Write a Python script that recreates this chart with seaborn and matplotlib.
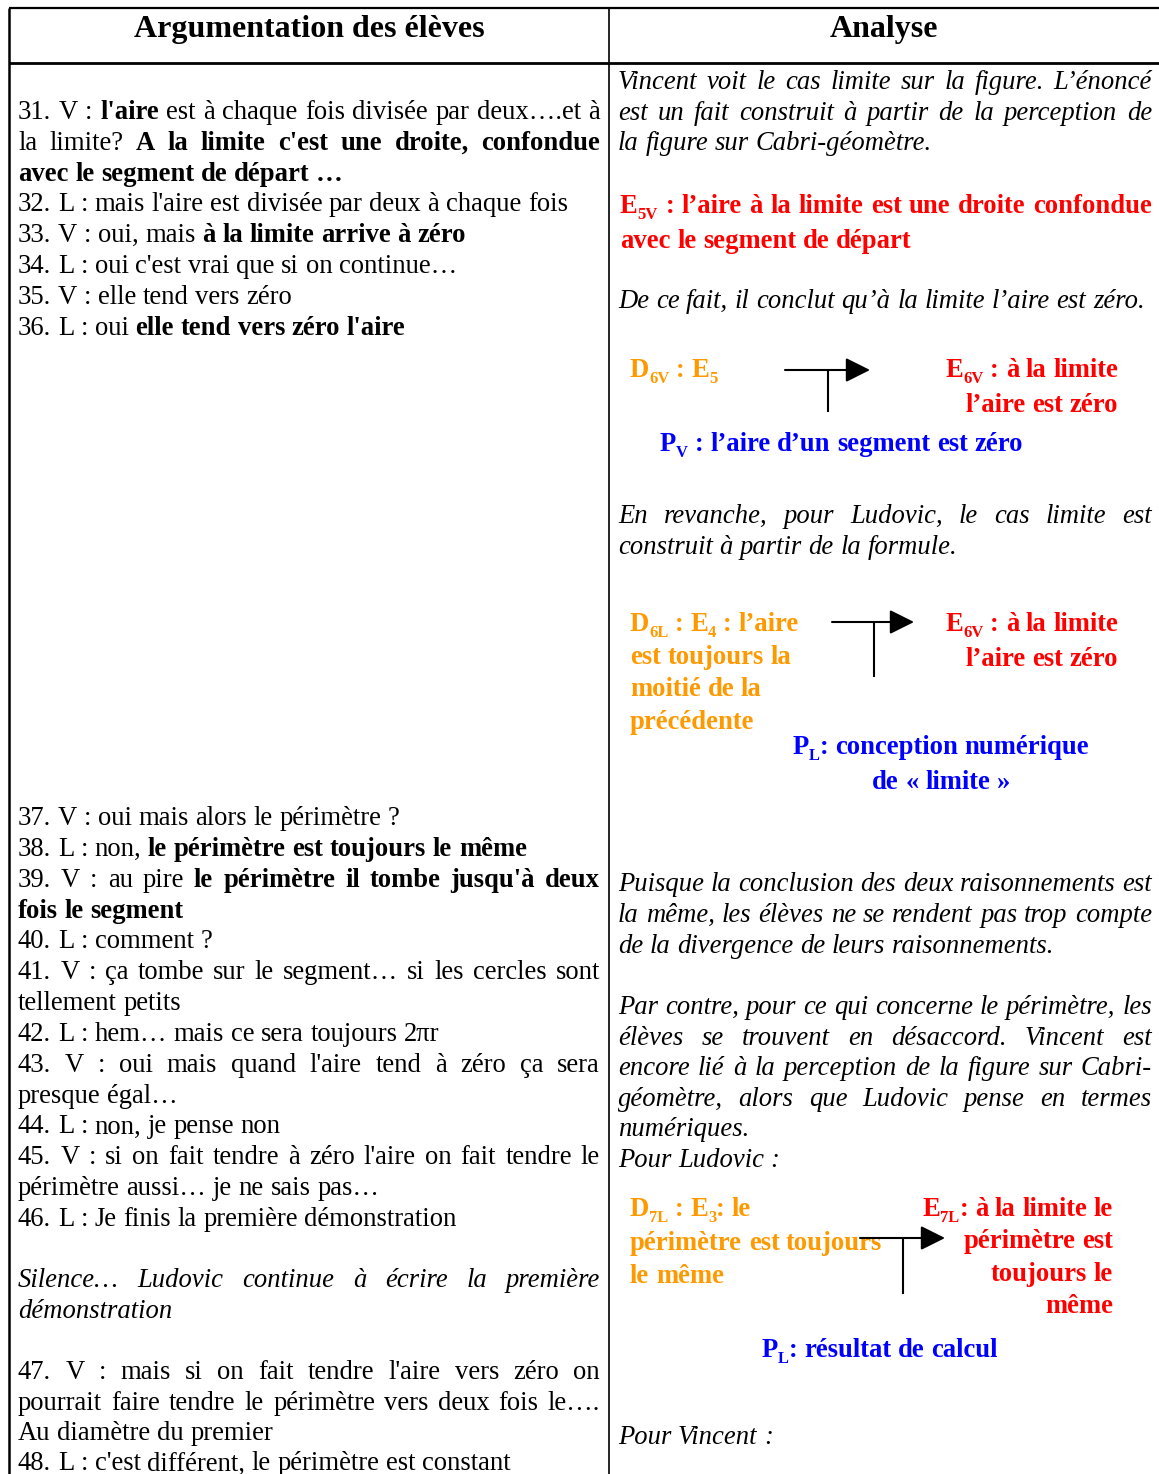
import re
import matplotlib
matplotlib.use("Agg")
import matplotlib.pyplot as plt
import seaborn as sns

sns.set_theme(style="white")
plt.rcParams["font.family"] = ["Liberation Serif", "DejaVu Serif"]

# ---------------- content ----------------
header_left = "Argumentation des élèves"
header_right = "Analyse"

# left column paragraphs (** toggles bold)
left_block1 = [
    ["31. V : **l'aire** est à chaque fois divisée par deux….et à",
     "la limite? **A la limite c'est une droite, confondue**",
     "**avec le segment de départ …**"],
    ["32. L : mais l'aire est divisée par deux à chaque fois"],
    ["33. V : oui, mais **à la limite arrive à zéro**"],
    ["34. L : oui c'est vrai que si on continue…"],
    ["35. V : elle tend vers zéro"],
    ["36. L : oui **elle tend vers zéro l'aire**"],
]
left_block2 = [
    ["37. V : oui mais alors le périmètre ?"],
    ["38. L : non, **le périmètre est toujours le même**"],
    ["39. V : au pire **le périmètre il tombe jusqu'à deux**",
     "**fois le segment**"],
    ["40. L : comment ?"],
    ["41. V : ça tombe sur le segment… si les cercles sont",
     "tellement petits"],
    ["42. L : hem… mais ce sera toujours 2πr"],
    ["43. V : oui mais quand l'aire tend à zéro ça sera",
     "presque égal…"],
    ["44. L : non, je pense non"],
    ["45. V : si on fait tendre à zéro l'aire on fait tendre le",
     "périmètre aussi… je ne sais pas…"],
    ["46. L : Je finis la première démonstration"],
]
left_silence = [["Silence… Ludovic continue à écrire la première",
                 "démonstration"]]
left_block3 = [
    ["47. V : mais si on fait tendre l'aire vers zéro on",
     "pourrait faire tendre le périmètre vers deux fois le….",
     "Au diamètre du premier"],
    ["48. L : c'est différent, le périmètre est constant"],
]

right_p1 = [["Vincent voit le cas limite sur la figure. L’énoncé",
             "est un fait construit à partir de la perception de",
             "la figure sur Cabri-géomètre."]]
right_e5 = [["E_{5V} : l’aire à la limite est une droite confondue",
             "avec le segment de départ"]]
right_p2 = [["De ce fait, il conclut qu’à la limite l’aire est zéro."]]
right_p3 = [["En revanche, pour Ludovic, le cas limite est",
             "construit à partir de la formule."]]
right_p4 = [["Puisque la conclusion des deux raisonnements est",
             "la même, les élèves ne se rendent pas trop compte",
             "de la divergence de leurs raisonnements."]]
right_p5 = [["Par contre, pour ce qui concerne le périmètre, les",
             "élèves se trouvent en désaccord. Vincent est",
             "encore lié à la perception de la figure sur Cabri-",
             "géomètre, alors que Ludovic pense en termes",
             "numériques."],
            ["Pour Ludovic :"]]
right_p6 = [["Pour Vincent :"]]

diag1_data = ["D_{6V} : E_{5}"]
diag1_concl = ["E_{6V} : à la limite", "l’aire est zéro"]
diag1_warrant = ["P_{V} : l’aire d’un segment est zéro"]

diag2_data = ["D_{6L} : E_{4} : l’aire", "est toujours la", "moitié de la", "précédente"]
diag2_concl = ["E_{6V} : à la limite", "l’aire est zéro"]
diag2_warrant = ["P_{L}: conception numérique", "de « limite »"]

diag3_data = ["D_{7L} : E_{3}: le", "périmètre est toujours", "le même"]
diag3_concl = ["E_{7L}: à la limite le", "périmètre est", "toujours le", "même"]
diag3_warrant = ["P_{L}: résultat de calcul"]

# ---------------- styles ----------------
ORANGE = "#FF9900"
RED = "#FF0000"
BLUE = "#0000FF"
BODY = 19.2
DIAG = 19.2

W, H = 1159, 1474
fig = plt.figure(figsize=(W / 100, H / 100), dpi=100)
ax = fig.add_axes([0, 0, 1, 1])
ax.set_xlim(0, W)
ax.set_ylim(H, 0)
ax.axis("off")
sns.despine(ax=ax, left=True, bottom=True)
renderer = fig.canvas.get_renderer()

_cache = {}


def measure(txt, size, weight, style):
    key = (txt, size, weight, style)
    if key not in _cache:
        t = ax.text(0, 0, txt, fontsize=size, fontweight=weight, fontstyle=style)
        bb = t.get_window_extent(renderer)
        _cache[key] = bb.width
        t.remove()
    return _cache[key]


def parse(s, bold0):
    runs = []
    bold = bold0
    for tok in re.split(r"(\*\*|_\{[^}]*\})", s):
        if tok == "**":
            bold = not bold
        elif tok.startswith("_{"):
            runs.append((tok[2:-1], bold, True))
        elif tok:
            runs.append((tok, bold, False))
    return runs


def words_of(runs):
    words, cur = [], []
    for txt, b, sub in runs:
        parts = txt.split(" ")
        for i, p in enumerate(parts):
            if i > 0:
                if cur:
                    words.append(cur)
                cur = []
            if p:
                cur.append((p, b, sub))
    if cur:
        words.append(cur)
    return words


def piece_w(p, size, style):
    txt, b, sub = p
    return measure(txt, size * (0.62 if sub else 1.0), "bold" if b else "normal", style)


def draw_line(s, y, x0, x1, size, color, style="normal", bold0=False,
              align="left", justify=False):
    words = words_of(parse(s, bold0))
    ww = [sum(piece_w(p, size, style) for p in w) for w in words]
    sp = measure("a a", size, "bold" if bold0 else "normal", style) - \
        measure("aa", size, "bold" if bold0 else "normal", style)
    nat = sum(ww) + sp * (len(words) - 1)
    gap = sp
    if justify and len(words) > 1:
        gap = (x1 - x0 - sum(ww)) / (len(words) - 1)
        x = x0
    elif align == "right":
        x = x1 - nat
    elif align == "center":
        x = (x0 + x1) / 2 - nat / 2
    else:
        x = x0
    base = y + size * 100 / 72 * 0.30
    for w, wwid in zip(words, ww):
        xx = x
        for p in w:
            txt, b, sub = p
            fs = size * (0.62 if sub else 1.0)
            yy = base + (size * 100 / 72 * 0.22 if sub else 0)
            ax.text(xx, yy, txt, fontsize=fs, fontweight="bold" if b else "normal",
                    fontstyle=style, color=color, va="baseline", ha="left", zorder=3)
            xx += piece_w(p, size, style)
        x += wwid + gap


def draw_paragraphs(paras, y0, step, x0, x1, size=BODY, color="black",
                    style="normal", bold0=False, para_gap=0.0):
    y = y0
    for para in paras:
        for i, line in enumerate(para):
            draw_line(line, y, x0, x1, size, color, style, bold0,
                      justify=(i < len(para) - 1))
            y += step
        y += para_gap
    return y


def draw_stack(lines, y0, step, x0, x1, size, color, align):
    for i, line in enumerate(lines):
        draw_line(line, y0 + i * step, x0, x1, size, color, "normal", True, align=align)


def tee_arrow(x_start, x_end, y, x_stem, y_stem_end):
    ax.plot([x_stem, x_stem], [y, y_stem_end], color="black", lw=1.5, zorder=5,
            solid_capstyle="butt")
    ax.annotate("", xy=(x_end, y), xytext=(x_start, y),
                arrowprops=dict(arrowstyle="-|>,head_length=1.0,head_width=0.5",
                                mutation_scale=15, color="black", lw=1.5,
                                shrinkA=0, shrinkB=0), zorder=5)


# ---------------- table frame ----------------
LX, MX, RX = 9, 609, W + 5
for xs, ys, lw in [([LX, RX], [8, 8], 1.6), ([LX, RX], [63, 63], 2.0),
                   ([LX, LX], [8, H], 1.8), ([MX, MX], [8, H], 1.2)]:
    ax.plot(xs, ys, color="black", lw=lw, solid_capstyle="butt", zorder=2)

ax.text(309, 29, header_left, fontsize=23, fontweight="bold", ha="center",
        va="center", color="black")
ax.text(884, 29, header_right, fontsize=23, fontweight="bold", ha="center",
        va="center", color="black")

# ---------------- left column ----------------
L0, L1 = 18, 600
draw_paragraphs(left_block1, 111, 30.8, L0, L1)
draw_paragraphs(left_block2, 817, 30.85, L0, L1)
draw_paragraphs(left_silence, 1279, 30.5, L0, L1, style="italic")
draw_paragraphs(left_block3, 1371, 30.5, L0, L1)

# ---------------- right column ----------------
R0, R1 = 618, 1152
draw_paragraphs(right_p1, 81, 30.5, R0, R1, style="italic")
draw_paragraphs(right_e5, 205, 35, 620, R1, size=DIAG, color=RED, bold0=True)
draw_paragraphs(right_p2, 300, 30.5, R0, R1, style="italic")

draw_stack(diag1_data, 369, 35, 630, 1000, DIAG, ORANGE, "left")
draw_stack(diag1_concl, 369, 35, 900, 1118, DIAG, RED, "right")
draw_stack(diag1_warrant, 443, 35, 660, 1100, DIAG, BLUE, "left")
tee_arrow(785, 870, 370, 828, 412)

draw_paragraphs(right_p3, 515, 31, R0, R1, style="italic")

draw_stack(diag2_data, 623, 32.7, 630, 1000, DIAG, ORANGE, "left")
draw_stack(diag2_concl, 623, 35, 900, 1118, DIAG, RED, "right")
draw_stack(diag2_warrant, 746, 35, 792, 1090, DIAG, BLUE, "center")
tee_arrow(832, 914, 622, 874, 677)

draw_paragraphs(right_p4, 883, 31, R0, R1, style="italic")
draw_paragraphs(right_p5, 1006, 30.6, R0, R1, style="italic")

draw_stack(diag3_data, 1208, 33.5, 630, 1000, DIAG, ORANGE, "left")
draw_stack(diag3_concl, 1208, 32.4, 900, 1113, DIAG, RED, "right")
draw_stack(diag3_warrant, 1349, 35, 762, 1100, DIAG, BLUE, "left")
tee_arrow(860, 945, 1238, 903, 1294)

draw_paragraphs(right_p6, 1436, 30.5, R0, R1, style="italic")

fig.savefig("out.png", dpi=100, facecolor="white")
